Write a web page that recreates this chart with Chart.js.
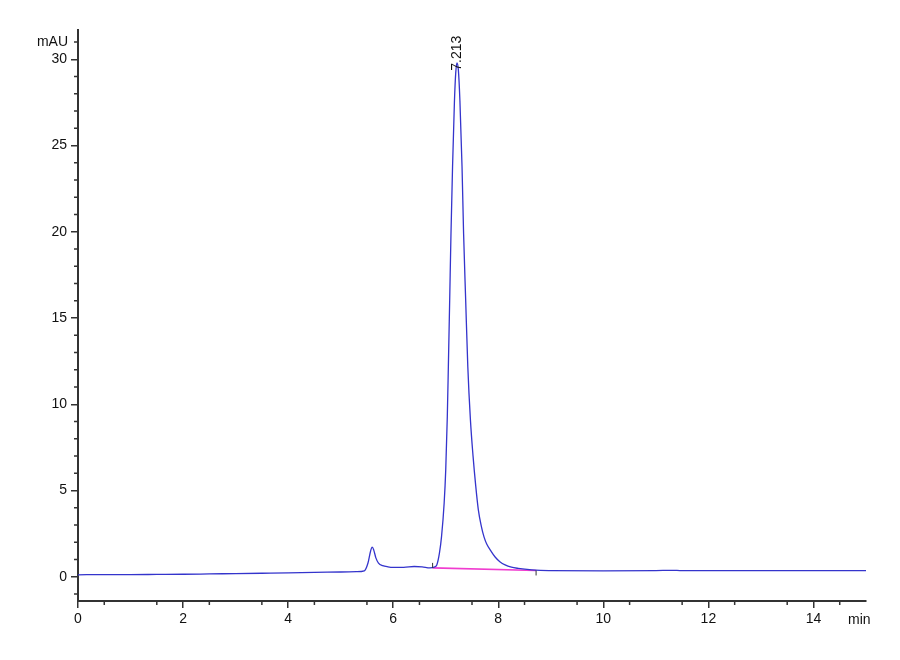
<!DOCTYPE html>
<html>
<head>
<meta charset="utf-8">
<title>Chromatogram</title>
<script src="https://cdn.jsdelivr.net/npm/chart.js@4/dist/chart.umd.min.js"></script>
<style>
  html, body { margin: 0; padding: 0; background: #fff; }
  #wrap { width: 900px; height: 660px; }
</style>
</head>
<body>
<div id="wrap"><canvas id="chart" width="900" height="660"></canvas></div>
<script>
// ─── Data ────────────────────────────────────────────────
var times = [0, 0.5, 1, 1.5, 2, 2.5, 3, 3.5, 4, 4.5, 5, 5.3, 5.45, 5.52, 5.57, 5.6,
  5.63, 5.67, 5.72, 5.8, 5.9, 6, 6.2, 6.4, 6.55, 6.7, 6.78, 6.83, 6.88, 6.92, 6.97,
  7.0, 7.03, 7.05, 7.075, 7.1, 7.13, 7.165, 7.19, 7.213, 7.24, 7.27, 7.31, 7.34, 7.38,
  7.42, 7.47, 7.52, 7.57, 7.62, 7.68, 7.73, 7.78, 7.86, 7.94, 8.03, 8.13, 8.25, 8.38,
  8.64, 8.8, 9, 10, 11, 11.3, 11.5, 12, 13, 14, 15];
var signal = [0.12, 0.13, 0.13, 0.14, 0.15, 0.17, 0.19, 0.21, 0.23, 0.26, 0.28, 0.3, 0.35,
  0.8, 1.5, 1.72, 1.55, 1.1, 0.8, 0.65, 0.58, 0.55, 0.55, 0.6, 0.58, 0.52, 0.56, 0.69,
  1.37, 2.33, 4.28, 6.2, 9.3, 12.2, 16.0, 19.9, 23.8, 27.5, 29.2, 29.8, 29.4, 27.6, 23.8,
  19.9, 16.0, 12.2, 9.1, 7.0, 5.3, 3.9, 2.9, 2.3, 1.9, 1.5, 1.15, 0.88, 0.69, 0.56, 0.49,
  0.4, 0.37, 0.36, 0.35, 0.36, 0.38, 0.36, 0.36, 0.36, 0.36, 0.36];

var baseTimes = [6.75, 8.72];
var baseValues = [0.52, 0.37];

var peakTime = 7.213;
var peakValue = 29.8;
var peakLabel = '7.213';

var xTickLabels = [0, 2, 4, 6, 8, 10, 12, 14];
var yTickLabels = [0, 5, 10, 15, 20, 25, 30];

// ─── Helpers ─────────────────────────────────────────────
function toPoints(xs, ys) {
  return xs.map(function (x, i) { return { x: x, y: ys[i] }; });
}

var FONT = "'Liberation Sans Narrow', 'Liberation Sans', Arial, sans-serif";
var AXIS = '#333333';

// draws minor tick marks, units and the peak label
var decorPlugin = {
  id: 'decor',
  afterDraw: function (chart) {
    var ctx = chart.ctx;
    var xs = chart.scales.x, ys = chart.scales.y;
    var area = chart.chartArea;
    ctx.save();
    ctx.strokeStyle = AXIS;
    ctx.lineWidth = 1.5;
    ctx.beginPath();
    var v, p;
    for (v = 0.5; v < 15; v += 1) {
      p = xs.getPixelForValue(v);
      ctx.moveTo(p, area.bottom);
      ctx.lineTo(p, area.bottom + 4);
    }
    for (v = -1; v <= 31; v++) {
      if (v % 5 === 0) continue;
      p = ys.getPixelForValue(v);
      ctx.moveTo(area.left, p);
      ctx.lineTo(area.left - 4, p);
    }
    ctx.stroke();

    // integration markers at baseline ends
    ctx.lineWidth = 1;
    ctx.beginPath();
    p = xs.getPixelForValue(baseTimes[0]);
    var py = ys.getPixelForValue(baseValues[0]);
    ctx.moveTo(p, py); ctx.lineTo(p, py - 5);
    p = xs.getPixelForValue(baseTimes[1]);
    py = ys.getPixelForValue(baseValues[1]);
    ctx.moveTo(p, py); ctx.lineTo(p, py + 5);
    ctx.stroke();

    ctx.fillStyle = '#111';
    ctx.font = '14px ' + FONT;
    ctx.textBaseline = 'middle';
    ctx.textAlign = 'right';
    ctx.fillText('mAU', area.left - 10, ys.getPixelForValue(31));
    ctx.textAlign = 'left';
    ctx.fillText('min', area.right - 18, area.bottom + 19);

    // peak retention time, rotated
    ctx.translate(xs.getPixelForValue(peakTime), ys.getPixelForValue(peakValue) + 8);
    ctx.rotate(-Math.PI / 2);
    ctx.font = '14px Liberation Sans, Arial, sans-serif';
    ctx.textAlign = 'left';
    ctx.fillText(peakLabel, 0, 0);
    ctx.restore();
  }
};

// ─── Chart ───────────────────────────────────────────────
new Chart(document.getElementById('chart'), {
  type: 'line',
  data: {
    datasets: [{
      label: 'signal',
      data: toPoints(times, signal),
      borderColor: '#3434cc',
      borderWidth: 1.3,
      pointRadius: 0,
      cubicInterpolationMode: 'monotone',
      fill: false,
      order: 1
    }, {
      label: 'baseline',
      data: toPoints(baseTimes, baseValues),
      borderColor: '#f03ccf',
      borderWidth: 1.6,
      pointRadius: 0,
      fill: false,
      order: 2
    }]
  },
  options: {
    responsive: false,
    animation: false,
    layout: { padding: { top: 30, right: 34, left: 0, bottom: 0 } },
    plugins: {
      legend: { display: false },
      tooltip: { enabled: false }
    },
    scales: {
      x: {
        type: 'linear',
        min: 0,
        max: 15,
        afterFit: function (s) { s.height = 59; },
        border: { display: true, color: AXIS, width: 2 },
        grid: { drawOnChartArea: false, drawTicks: true, tickLength: 7, color: AXIS, lineWidth: 1.5 },
        ticks: {
          stepSize: 2,
          includeBounds: false,
          autoSkip: false,
          maxRotation: 0,
          padding: 3,
          color: '#111',
          font: { family: FONT, size: 14 },
          callback: function (v) { return xTickLabels.indexOf(v) >= 0 ? String(v) : ''; }
        }
      },
      y: {
        type: 'linear',
        min: -1.4,
        max: 31.7,
        afterFit: function (s) { s.width = 78; },
        border: { display: true, color: AXIS, width: 2 },
        grid: { drawOnChartArea: false, drawTicks: true, tickLength: 7, color: AXIS, lineWidth: 1.5 },
        ticks: {
          stepSize: 5,
          includeBounds: false,
          padding: 4,
          color: '#111',
          font: { family: FONT, size: 14 },
          callback: function (v) { return yTickLabels.indexOf(v) >= 0 ? String(v) : ''; }
        }
      }
    }
  },
  plugins: [decorPlugin]
});
</script>
</body>
</html>
